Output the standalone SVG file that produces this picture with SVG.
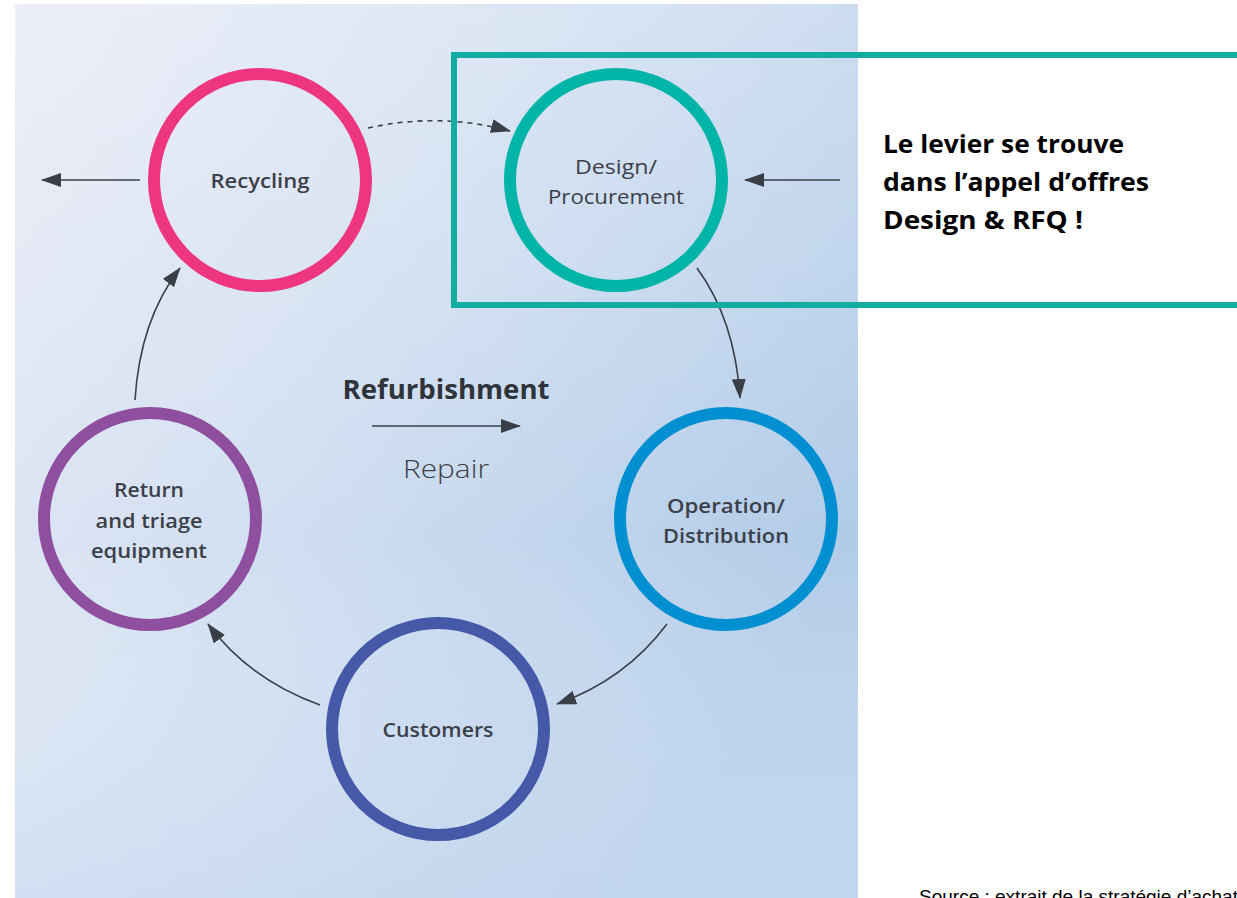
<svg xmlns="http://www.w3.org/2000/svg" width="1237" height="898" viewBox="0 0 1237 898">
<defs>
<linearGradient id="bg" x1="0" y1="0" x2="1" y2="0.6">
<stop offset="0" stop-color="#e9ebf6"/>
<stop offset="0.45" stop-color="#d3e0f2"/>
<stop offset="1" stop-color="#b1cbe8"/>
</linearGradient>
<linearGradient id="bg2" x1="0" y1="0" x2="0" y2="1">
<stop offset="0" stop-color="#ffffff" stop-opacity="0.2"/>
<stop offset="0.6" stop-color="#ffffff" stop-opacity="0"/>
<stop offset="1" stop-color="#d0def2" stop-opacity="0.5"/>
</linearGradient>
<marker id="ah" viewBox="0 0 20 14" refX="19" refY="7" markerWidth="20" markerHeight="14" markerUnits="userSpaceOnUse" orient="auto">
<path d="M0,0 L20,7 L0,14 Z" fill="#3a3f47"/>
</marker>
<style>
.ring{fill:none;stroke-width:12}
.lbl{font-family:"Open Sans","Noto Sans",sans-serif;font-weight:600;font-size:20px;fill:#3b4048;text-anchor:middle}
.con{fill:none;stroke:#3a3f47;stroke-width:1.6;marker-end:url(#ah)}
.note{font-family:"Open Sans","Liberation Sans",sans-serif;font-weight:700;font-size:25px;fill:#000}
</style>
</defs>
<rect x="0" y="0" width="1237" height="898" fill="#ffffff"/>
<rect x="15" y="4" width="843" height="894" fill="url(#bg)"/>
<rect x="15" y="4" width="843" height="894" fill="url(#bg2)"/>

<g id="connectors">
<path class="con" d="M140,180 L42,180"/>
<path class="con" d="M368,128 Q440,112 510,131" stroke-dasharray="5,5"/>
<path class="con" d="M840,180 L745,180"/>
<path class="con" d="M697,268 Q735,320 740,398"/>
<path class="con" d="M667,624 Q625,680 557,704"/>
<path class="con" d="M320,705 Q250,680 208,624"/>
<path class="con" d="M135,400 Q140,320 180,268"/>
<path class="con" d="M372,426 L520,426"/>
</g>

<g id="recycling">
<circle class="ring" cx="260" cy="180" r="106" stroke="#ee3580"/>
<text class="lbl" x="260" y="188" textLength="99" lengthAdjust="spacingAndGlyphs">Recycling</text>
</g>
<g id="design">
<circle class="ring" cx="616" cy="180" r="106" stroke="#00b4a7"/>
<text class="lbl" x="616" y="174" textLength="82" lengthAdjust="spacingAndGlyphs" style="font-weight:500">Design/</text>
<text class="lbl" x="616" y="204" textLength="136" lengthAdjust="spacingAndGlyphs" style="font-weight:500">Procurement</text>
</g>
<g id="operation">
<circle class="ring" cx="726" cy="519" r="106" stroke="#008fd0"/>
<text class="lbl" x="726" y="513" textLength="118" lengthAdjust="spacingAndGlyphs">Operation/</text>
<text class="lbl" x="726" y="543" textLength="126" lengthAdjust="spacingAndGlyphs">Distribution</text>
</g>
<g id="customers">
<circle class="ring" cx="438" cy="729" r="106" stroke="#4559a8"/>
<text class="lbl" x="438" y="737" textLength="111" lengthAdjust="spacingAndGlyphs">Customers</text>
</g>
<g id="return">
<circle class="ring" cx="150" cy="519" r="106" stroke="#8e509e"/>
<text class="lbl" x="149" y="497" textLength="70" lengthAdjust="spacingAndGlyphs">Return</text>
<text class="lbl" x="149" y="528" textLength="107" lengthAdjust="spacingAndGlyphs">and triage</text>
<text class="lbl" x="149" y="558" textLength="116" lengthAdjust="spacingAndGlyphs">equipment</text>
</g>

<g id="refurbishment">
<text x="446" y="399" text-anchor="middle" font-family="Open Sans, Noto Sans, sans-serif" font-weight="700" font-size="26" fill="#2f333a" textLength="207" lengthAdjust="spacingAndGlyphs">Refurbishment</text>
<text x="446" y="478" text-anchor="middle" font-family="Open Sans, Noto Sans, sans-serif" font-weight="300" font-size="26" fill="#3b4048" textLength="86" lengthAdjust="spacingAndGlyphs">Repair</text>
</g>

<g id="lever-box">
<rect x="454" y="55" width="900" height="250" fill="none" stroke="#13aca0" stroke-width="6"/>
<text class="note" x="883" y="153" textLength="241" lengthAdjust="spacingAndGlyphs">Le levier se trouve</text>
<text class="note" x="883" y="191" textLength="266" lengthAdjust="spacingAndGlyphs">dans l’appel d’offres</text>
<text class="note" x="883" y="229" textLength="200" lengthAdjust="spacingAndGlyphs">Design &amp; RFQ !</text>
</g>

<text x="919" y="903" font-family="Liberation Sans, sans-serif" font-size="19" fill="#000">Source : extrait de la stratégie d’achats</text>
</svg>
